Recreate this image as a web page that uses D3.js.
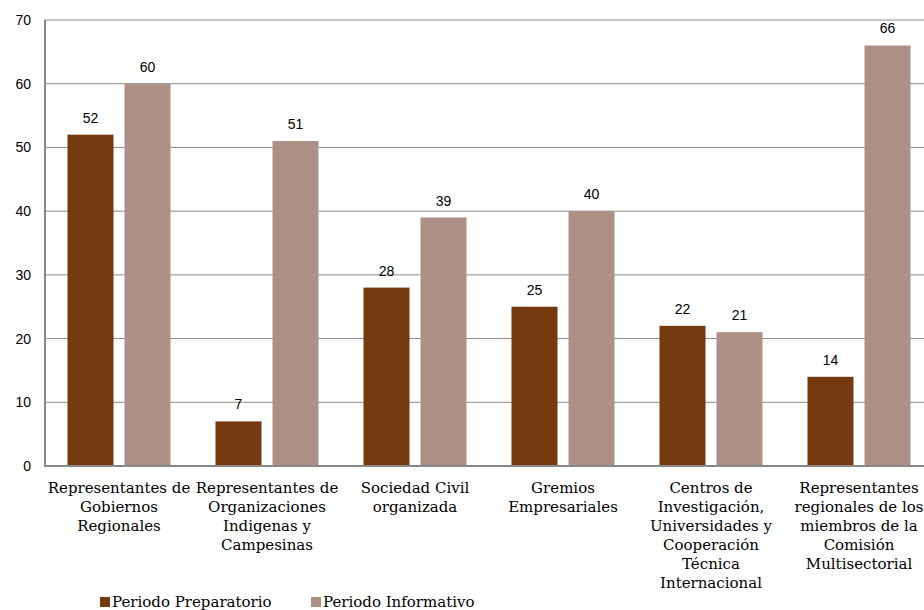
<!DOCTYPE html>
<html><head><meta charset="utf-8">
<script src="https://cdn.jsdelivr.net/npm/d3@7"></script>
<style>body{margin:0;background:#fff}</style>
</head><body>
<svg id="c" width="924" height="610"></svg>
<script>
const categories = [
  ["Representantes de","Gobiernos","Regionales"],
  ["Representantes de","Organizaciones","Indigenas y","Campesinas"],
  ["Sociedad Civil","organizada"],
  ["Gremios","Empresariales"],
  ["Centros de","Investigación,","Universidades y","Cooperación","Técnica","Internacional"],
  ["Representantes","regionales de los","miembros de la","Comisión","Multisectorial"]
];
const seriesNames = ["Periodo Preparatorio","Periodo Informativo"];
const preparatorio = [52, 7, 28, 25, 22, 14];
const informativo = [60, 51, 39, 40, 21, 66];
const yTicks = [0,10,20,30,40,50,60,70];
const colors = ["#74390f","#ac9085"];

(function(){
const svg = d3.select("#c");
const pLeft = 45, pRight = 933, pTop = 20, pBottom = 466;
const x = d3.scaleBand().domain(d3.range(categories.length)).range([pLeft, pRight]);
const y = d3.scaleLinear().domain([0,70]).range([pBottom, pTop]);
const barW = 46, gap = 11;

svg.append("g").selectAll("line").data(yTicks.filter(d=>d>0)).join("line")
  .attr("x1", pLeft).attr("x2", pRight).attr("y1", d=>y(d)).attr("y2", d=>y(d))
  .attr("stroke","#8c8c8c").attr("stroke-width",1);

const yAxis = svg.append("g").attr("transform",`translate(${pLeft},0)`)
  .call(d3.axisLeft(y).tickValues(yTicks).tickSize(0).tickPadding(14));
yAxis.select(".domain").remove();
yAxis.selectAll("text").attr("font-family","Liberation Sans, Arial, sans-serif").attr("font-size",14).attr("fill","#000");

const series = [preparatorio, informativo];
series.forEach((vals, s) => {
  const g = svg.append("g");
  g.selectAll("rect").data(vals).join("rect")
    .attr("x", (d,i) => x(i) + x.bandwidth()/2 - barW - gap/2 + s*(barW+gap))
    .attr("y", d => y(d)).attr("width", barW).attr("height", d => y(0)-y(d))
    .attr("fill", colors[s]);
  g.selectAll("text").data(vals).join("text")
    .attr("x", (d,i) => x(i) + x.bandwidth()/2 - gap/2 - barW/2 + s*(barW+gap))
    .attr("y", d => y(d) - 12)
    .attr("text-anchor","middle")
    .attr("font-family","Liberation Sans, Arial, sans-serif").attr("font-size",14)
    .text(d => d);
});

svg.append("line").attr("x1",pLeft).attr("x2",pLeft).attr("y1",pTop).attr("y2",pBottom+1)
  .attr("stroke","#888").attr("stroke-width",2);
svg.append("line").attr("x1",pLeft-1).attr("x2",pRight).attr("y1",pBottom).attr("y2",pBottom)
  .attr("stroke","#888").attr("stroke-width",2);

const cl = svg.append("g");
categories.forEach((lines,i) => {
  const t = cl.append("text").attr("text-anchor","middle")
    .attr("font-family","DejaVu Serif, serif").attr("font-size",15).attr("fill","#000");
  lines.forEach((ln,k) => {
    t.append("tspan").attr("x", x(i)+x.bandwidth()/2).attr("y", 493 + k*19).text(ln);
  });
});

const legX = [100, 311];
seriesNames.forEach((n,s) => {
  svg.append("rect").attr("x",legX[s]).attr("y",597).attr("width",10).attr("height",10).attr("fill",colors[s]);
  svg.append("text").attr("x",legX[s]+12).attr("y",607)
    .attr("font-family","DejaVu Serif, serif").attr("font-size",15).text(n);
});
})();
</script>
</body></html>
